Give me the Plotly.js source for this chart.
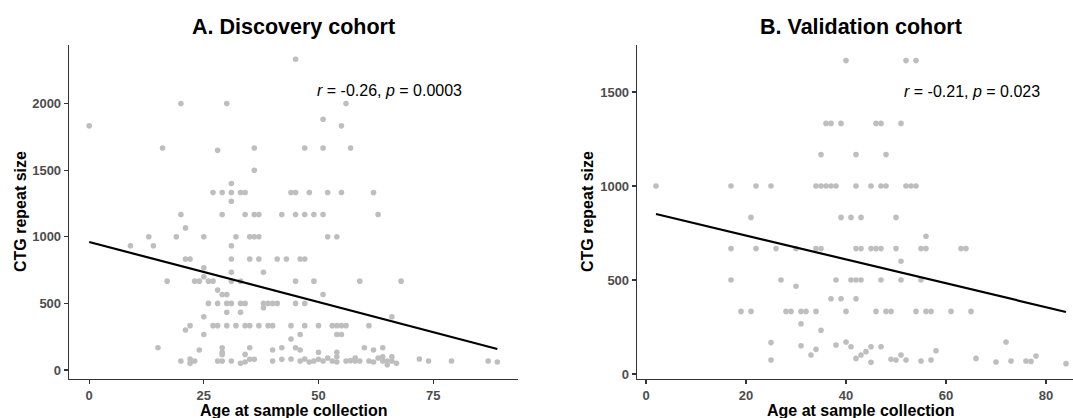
<!DOCTYPE html>
<html>
<head>
<meta charset="utf-8">
<script src="https://cdn.plot.ly/plotly-3.0.1.min.js"></script>
<style>
html,body{margin:0;padding:0;background:#fff;overflow:hidden;}
#chart{width:1073px;height:418px;}
</style>
</head>
<body>
<div id="chart"></div>
<script>
// ---------- Data: A. Discovery cohort ----------
const ageA = [
 0,20,30,16,28,36,36,31,
 27,29,31,33,34,
 31,
 20,29,34,36,37,42,
 21,
 13,19,25,32,35,36,37,
 9,14,31,
 21,22,31,35,37,41,43,
 25,31,38,25,
 17,23,24,26,27,31,33,
 28,29,30,
 26,28,30,31,33,34,38,39,40,41,
 38,30,33,25,
 22,27,28,30,32,34,35,37,39,40,
 21,25,
 15,29,35,42,24,40,29,29,34,
 20,22,22,23,28,29,31,33,34,35,36,40,42,
 45,56,51,55,
 47,51,57,
 44,45,48,52,55,62,
 45,47,49,51,63,
 52,54,
 46,47,
 45,49,59,68,
 51,45,47,66,
 44,47,50,53,54,55,56,61,
 46,54,55,44,
 45,46,50,54,60,62,64,
 44,46,47,48,49,50,51,52,53,54,54,56,57,58,58,59,61,62,63,64,64,65,65,66,66,67,72,74,79,87,89
];
const ctgA = [
 1833,2000,2000,1667,1650,1667,1500,1400,
 1333,1333,1333,1333,1333,
 1267,
 1167,1167,1167,1167,1167,1167,
 1067,
 1000,1000,1000,1000,1000,1000,1000,
 933,933,933,
 833,833,833,833,833,833,833,
 767,733,733,700,
 667,667,667,667,667,667,667,
 600,567,567,
 500,500,500,500,500,500,500,500,500,500,
 467,433,433,400,
 333,333,333,333,333,333,333,333,333,333,
 300,267,
 167,167,167,167,150,150,133,117,117,
 67,83,50,67,67,67,67,50,60,80,80,67,80,
 2333,2000,1883,1833,
 1667,1667,1667,
 1333,1333,1333,1333,1333,1333,
 1167,1167,1167,1167,1167,
 1000,1000,
 833,833,
 667,667,667,667,
 567,500,500,400,
 333,333,333,333,333,333,333,333,
 267,267,267,233,
 167,150,133,133,167,150,167,
 83,67,83,60,67,80,67,90,67,60,100,67,70,67,90,67,67,60,90,67,100,67,40,67,100,50,83,67,67,67,60
];
const fitAx = [0, 89];
const fitAy = [961, 158];
const statA = {x: 49.3, y: 2102, r: "-0.26", p: "0.0003"};

// ---------- Data: B. Validation cohort ----------
const ageB = [
 40,52,54,
 36,37,39,46,47,51,
 35,42,48,
 2,17,22,25,34,35,36,37,38,42,45,47,48,52,53,54,
 21,39,41,43,50,
 56,
 17,22,26,30,34,35,42,43,45,46,47,50,55,56,63,64,
 51,
 17,27,38,41,42,43,47,51,55,
 30,
 37,39,42,
 19,21,28,29,31,32,34,40,46,48,49,54,56,57,61,65,
 31,35,
 25,25,31,33,34,38,40,41,42,43,44,45,45,47,49,50,51,52,55,57,58,66,70,72,73,76,77,78,84
];
const ctgB = [
 1667,1667,1667,
 1333,1333,1333,1333,1333,1333,
 1167,1167,1167,
 1000,1000,1000,1000,1000,1000,1000,1000,1000,1000,1000,1000,1000,1000,1000,1000,
 833,833,833,833,833,
 733,
 667,667,667,667,667,667,667,667,667,667,667,667,667,667,667,667,
 600,
 500,500,500,500,500,500,500,500,500,
 467,
 400,400,400,
 333,333,333,333,333,333,333,333,333,333,333,333,333,333,333,333,
 267,233,
 167,74,150,101,131,154,170,145,83,101,119,145,62,145,78,74,101,74,69,74,124,83,64,170,69,69,67,96,55
];
const fitBx = [2, 84];
const fitBy = [851, 330];
const statB = {x: 51.2, y: 1505, r: "-0.21", p: "0.023"};

const titles = ["A. Discovery cohort", "B. Validation cohort"];
const xTitle = "Age at sample collection";
const yTitle = "CTG repeat size";
const xTicksA = [0, 25, 50, 75];
const xTicksB = [0, 20, 40, 60, 80];
const yTicksA = [0, 500, 1000, 1500, 2000];
const yTicksB = [0, 500, 1000, 1500];

// ---------- Plot ----------
const W = 1073, H = 418;
const FONT = "Liberation Sans, Arial, Helvetica, sans-serif";
const ptColor = "#BEBEBE";

const traces = [
 {x: ageA, y: ctgA, type: "scatter", mode: "markers", xaxis: "x", yaxis: "y",
  marker: {color: ptColor, size: 5.6}, hoverinfo: "skip"},
 {x: fitAx, y: fitAy, type: "scatter", mode: "lines", xaxis: "x", yaxis: "y",
  line: {color: "#000", width: 2.2}, hoverinfo: "skip"},
 {x: ageB, y: ctgB, type: "scatter", mode: "markers", xaxis: "x2", yaxis: "y2",
  marker: {color: ptColor, size: 5.6}, hoverinfo: "skip"},
 {x: fitBx, y: fitBy, type: "scatter", mode: "lines", xaxis: "x2", yaxis: "y2",
  line: {color: "#000", width: 2.2}, hoverinfo: "skip"}
];

function axisBase(ticks) {
  return {
    tickmode: "array", tickvals: ticks, ticktext: ticks.map(String),
    showgrid: false, zeroline: false, showline: true,
    linecolor: "#333", linewidth: 1.3,
    ticks: "outside", ticklen: 4, tickwidth: 1.1, tickcolor: "#333",
    tickfont: {family: FONT, size: 13, color: "#4D4D4D", weight: "bold"},
    fixedrange: true
  };
}

const yDom = [1 - 379 / H, 1 - 45 / H];
const layout = {
  width: W, height: H,
  margin: {l: 0, r: 0, t: 0, b: 0},
  paper_bgcolor: "#fff", plot_bgcolor: "#fff",
  showlegend: false,
  font: {family: FONT},
  xaxis: Object.assign(axisBase(xTicksA), {domain: [69 / W, 518 / W], range: [-4.4, 93.5], anchor: "y"}),
  yaxis: Object.assign(axisBase(yTicksA), {domain: yDom, range: [-67.6, 2440], anchor: "x"}),
  xaxis2: Object.assign(axisBase(xTicksB), {domain: [637 / W, 1], range: [-1.8, 85.4], anchor: "y2"}),
  yaxis2: Object.assign(axisBase(yTicksB), {domain: yDom, range: [-26.6, 1750], anchor: "x2"}),
  annotations: [
    {text: "<b>" + titles[0] + "</b>", xref: "paper", yref: "paper", x: 293.5 / W, y: 1 - 27 / H,
     xanchor: "center", yanchor: "middle", showarrow: false, font: {family: FONT, size: 21.5, color: "#000"}},
    {text: "<b>" + titles[1] + "</b>", xref: "paper", yref: "paper", x: 860.5 / W, y: 1 - 27 / H,
     xanchor: "center", yanchor: "middle", showarrow: false, font: {family: FONT, size: 21.5, color: "#000"}},
    {text: "<b>" + xTitle + "</b>", xref: "paper", yref: "paper", x: 294 / W, y: 1 - 410 / H,
     xanchor: "center", yanchor: "middle", showarrow: false, font: {family: FONT, size: 16, color: "#000"}},
    {text: "<b>" + xTitle + "</b>", xref: "paper", yref: "paper", x: 861 / W, y: 1 - 410 / H,
     xanchor: "center", yanchor: "middle", showarrow: false, font: {family: FONT, size: 16, color: "#000"}},
    {text: "<b>" + yTitle + "</b>", xref: "paper", yref: "paper", x: 20 / W, y: 1 - 212 / H, textangle: -90,
     xanchor: "center", yanchor: "middle", showarrow: false, font: {family: FONT, size: 16, color: "#000"}},
    {text: "<b>" + yTitle + "</b>", xref: "paper", yref: "paper", x: 587 / W, y: 1 - 212 / H, textangle: -90,
     xanchor: "center", yanchor: "middle", showarrow: false, font: {family: FONT, size: 16, color: "#000"}},
    {text: "<i>r</i> = " + statA.r + ", <i>p</i> = " + statA.p, xref: "x", yref: "y", x: statA.x, y: statA.y,
     xanchor: "left", yanchor: "middle", showarrow: false, font: {family: FONT, size: 16, color: "#000"}},
    {text: "<i>r</i> = " + statB.r + ", <i>p</i> = " + statB.p, xref: "x2", yref: "y2", x: statB.x, y: statB.y,
     xanchor: "left", yanchor: "middle", showarrow: false, font: {family: FONT, size: 16, color: "#000"}}
  ]
};

Plotly.newPlot("chart", traces, layout, {staticPlot: true, displayModeBar: false});
</script>
</body>
</html>
